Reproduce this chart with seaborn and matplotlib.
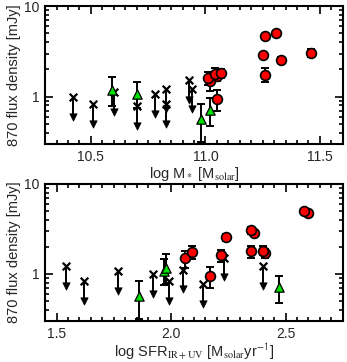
import numpy as np
import pandas as pd
import matplotlib
matplotlib.use("Agg")
import matplotlib.pyplot as plt
import matplotlib.ticker as mticker
import seaborn as sns

# ==========================
# DATA (flux is shared by both panels, one entry per galaxy)
# ==========================

# upper limits (crosses with arrows)
lim_flux = [0.78, 0.84, 0.84, 1.00, 1.08, 1.12, 1.22, 1.22, 1.52]
lim_mass = [10.70, 10.51, 10.83, 10.42, 10.78, 10.60, 10.83, 10.94, 10.93]
lim_sfr = [2.14, 1.62, 1.99, 1.92, 1.77, 2.05, 1.54, 2.40, 2.23]

# green triangles
tri_flux = [0.57, 0.71, 1.07, 1.18]
tri_err_lo = [0.25, 0.23, 0.32, 0.40]
tri_err_hi = [0.27, 0.25, 0.38, 0.48]
tri_mass = [10.98, 11.02, 10.70, 10.59]
tri_sfr = [1.86, 2.47, 1.97, 1.98]

# red circles
red_flux = [0.95, 1.49, 1.61, 1.71, 1.75, 1.78, 1.82, 2.55, 2.86, 3.05, 4.70, 5.00]
red_err = [0.25, 0.32, 0.25, 0.20, 0.30, 0.28, 0.20, 0.20, 0.20, 0.30, 0.25, 0.25]
red_mass = [11.05, 11.02, 11.01, 11.05, 11.26, 11.04, 11.07, 11.33, 11.25, 11.46, 11.26, 11.31]
red_sfr = [2.17, 2.06, 2.22, 2.41, 2.09, 2.35, 2.40, 2.24, 2.36, 2.35, 2.60, 2.58]

sns.set_style("ticks")
plt.rcParams["font.family"] = ["Liberation Sans", "DejaVu Sans"]
plt.rcParams["mathtext.fontset"] = "stix"

fig = plt.figure(figsize=(3.47, 3.62), dpi=100)
ax1 = fig.add_axes([0.130, 0.602, 0.858, 0.381])
ax2 = fig.add_axes([0.130, 0.113, 0.858, 0.379])

ARROW = 1.66  # arrow length as a factor in flux (log axis)


def draw_panel(ax, xlim_, xname):
    lim = pd.DataFrame({"x": lim_mass if xname == "mass" else lim_sfr, "y": lim_flux})
    tri = pd.DataFrame({"x": tri_mass if xname == "mass" else tri_sfr, "y": tri_flux})
    red = pd.DataFrame({"x": red_mass if xname == "mass" else red_sfr, "y": red_flux})

    # upper limits
    ax.vlines(lim["x"], lim["y"], lim["y"] / ARROW, color="black", lw=1.4, zorder=2)
    sns.scatterplot(x=lim["x"], y=lim["y"] / ARROW, marker="v", s=28, color="black",
                    edgecolor="black", linewidth=0.5, ax=ax, zorder=3)
    sns.scatterplot(data=lim, x="x", y="y", marker="x", s=30, color="black",
                    linewidth=1.6, ax=ax, zorder=3)

    # triangles
    ax.errorbar(tri["x"], tri["y"], yerr=[tri_err_lo, tri_err_hi], fmt="none",
                ecolor="black", elinewidth=1.4, capsize=3, capthick=1.4, zorder=4)
    sns.scatterplot(data=tri, x="x", y="y", marker="^", s=45, color="#00e000",
                    edgecolor="black", linewidth=0.9, ax=ax, zorder=5)

    # circles
    ax.errorbar(red["x"], red["y"], yerr=red_err, fmt="none",
                ecolor="black", elinewidth=1.4, capsize=3, capthick=1.4, zorder=6)
    sns.scatterplot(data=red, x="x", y="y", marker="o", s=50, color="#ff0000",
                    edgecolor="black", linewidth=1.2, ax=ax, zorder=7)

    ax.set_yscale("log")
    ax.set_ylim(0.3, 10)
    ax.set_xlim(*xlim_)
    ax.yaxis.set_major_locator(mticker.FixedLocator([1, 10]))
    ax.yaxis.set_major_formatter(mticker.FixedFormatter(["1", "10"]))
    ax.yaxis.set_minor_locator(mticker.LogLocator(base=10, subs=np.arange(2, 10)))
    ax.yaxis.set_minor_formatter(mticker.NullFormatter())
    ax.xaxis.set_major_locator(mticker.MultipleLocator(0.5))
    ax.xaxis.set_minor_locator(mticker.MultipleLocator(0.05))
    ax.xaxis.set_major_formatter(mticker.FormatStrFormatter("%.1f"))
    ax.tick_params(which="both", direction="in", top=True, right=True,
                   bottom=True, left=True, labelsize=10, width=1.2, color="black",
                   zorder=10)
    ax.tick_params(which="major", length=6, pad=4)
    ax.tick_params(which="minor", length=3)
    for sp in ax.spines.values():
        sp.set_linewidth(1.5)
        sp.set_color("black")
    ax.set_ylabel("870 flux density [mJy]", fontsize=10.5, labelpad=2)


draw_panel(ax1, (10.3, 11.6), "mass")
ax1.set_xlabel(r"log M$_*$ [M$_{\mathrm{solar}}$]", fontsize=10.5, labelpad=1)

draw_panel(ax2, (1.45, 2.75), "sfr")
ax2.set_xlabel(r"log SFR$_{\mathrm{IR+UV}}$ [M$_{\mathrm{solar}}$yr$^{\mathsf{-1}}$]",
               fontsize=10.5, labelpad=1)

fig.savefig("out.png", dpi=100)
